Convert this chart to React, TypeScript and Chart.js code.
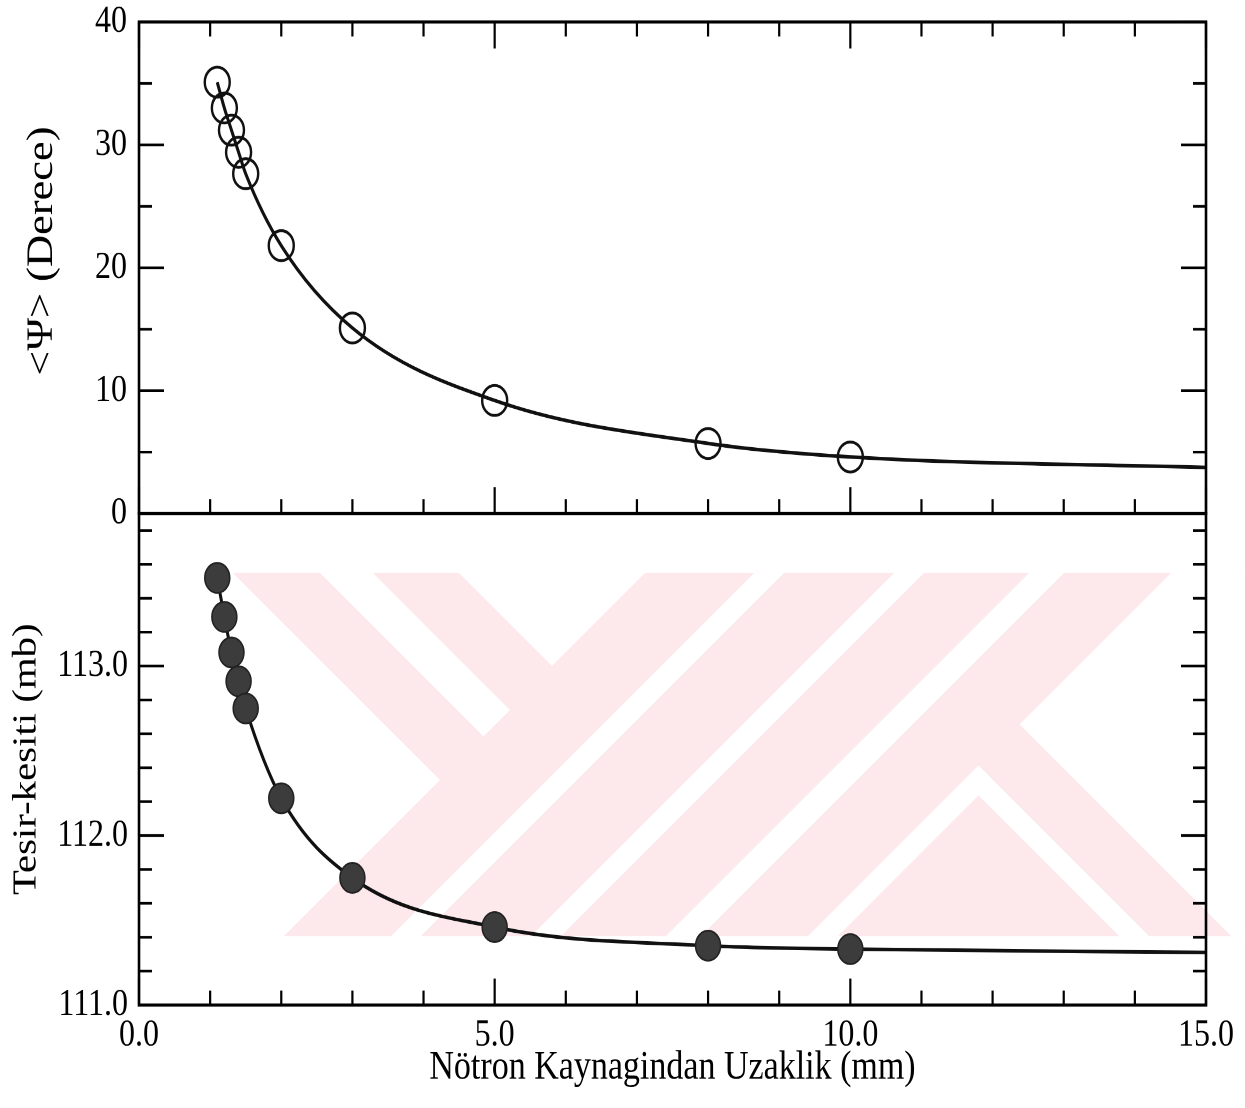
import React, { useEffect, useRef } from 'react';
import { Chart, registerables } from 'chart.js';

Chart.register(...registerables);

// Distance from the neutron source (mm) and the two measured quantities
const distanceMm = [1.1, 1.2, 1.3, 1.4, 1.5, 2, 3, 5, 8, 10];
const psiDegrees = [35.1, 33.0, 31.2, 29.4, 27.65, 21.8, 15.1, 9.2, 5.7, 4.6];
const crossSectionMb = [113.52, 113.29, 113.08, 112.91, 112.75, 112.22, 111.75, 111.46, 111.35, 111.33];

// The fitted curves run on past the last measurement to the end of the axis
const curveEndMm = 15;
const psiCurveEnd = 3.75;
const crossSectionCurveEnd = 111.31;

// Labelled ticks
const distanceTicks = [0, 5, 10, 15];
const psiTicks = [0, 10, 20, 30, 40];
const crossSectionTicks = [111, 112, 113];

// Minor tick spacing, and how many minor steps make a major tick
const distanceMinor = { step: 1, major: 5 };
const psiMinor = { step: 5, major: 2 };
const crossSectionMinor = { step: 0.2, major: 5 };

// The figure is drawn on a shorter canvas and stretched vertically,
// which gives the tall, narrow serif lettering of the printed plot.
const PAGE_W = 1245;
const PAGE_H = 1108;
const H = 923;
const STRETCH = PAGE_H / H;
const PLOT_TOP = 22;
const PLOT_BOTTOM = 1005;
const PLOT_LEFT = 139;
const PLOT_RIGHT = 1206;

const SERIF = '"Liberation Serif", "Times New Roman", serif';

type Pt = [number, number];
type HalfPlane = [number, number, number]; // a*x + b*y <= c

function clipPoly(poly: Pt[], [a, b, c]: HalfPlane): Pt[] {
  const out: Pt[] = [];
  for (let i = 0; i < poly.length; i++) {
    const p = poly[i];
    const q = poly[(i + 1) % poly.length];
    const fp = a * p[0] + b * p[1] - c;
    const fq = a * q[0] + b * q[1] - c;
    if (fp <= 0) out.push(p);
    if ((fp < 0 && fq > 0) || (fp > 0 && fq < 0)) {
      const t = fp / (fp - fq);
      out.push([p[0] + t * (q[0] - p[0]), p[1] + t * (q[1] - p[1])]);
    }
  }
  return out;
}

// Pale diagonal-stripe emblem printed behind the lower panel (page pixels)
const EMBLEM_BOX: Pt[] = [[200, 573], [1245, 573], [1245, 936], [200, 936]];
const EMBLEM_GAPS: HalfPlane[][] = [
  [[1, 1, 1220], [1, -1, -340]],
  [[1, 1, 1220], [-1, 1, 253], [1, -1, -200]],
  [[1, 1, 1218], [-1, 1, 114]],
  [[-1, -1, -1327], [1, 1, 1357]],
  [[-1, -1, -1467], [1, 1, 1497]],
  [[-1, -1, -1602], [1, 1, 1637]],
  [[-1, -1, -1744], [-1, 1, -295]],
  [[-1, -1, -1744], [1, 1, 1774], [1, -1, 213]],
  [[-1, 1, -183], [1, -1, 213], [-1, -1, -1744]],
];

const emblemPlugin = {
  id: 'emblem',
  beforeDraw(chart: any) {
    const ctx: CanvasRenderingContext2D = chart.ctx;
    ctx.save();
    ctx.fillStyle = '#ffffff';
    ctx.fillRect(0, 0, chart.width, chart.height);
    ctx.scale(1, 1 / STRETCH);
    const fill = (poly: Pt[], color: string) => {
      if (poly.length < 3) return;
      ctx.beginPath();
      ctx.moveTo(poly[0][0], poly[0][1]);
      for (let i = 1; i < poly.length; i++) ctx.lineTo(poly[i][0], poly[i][1]);
      ctx.closePath();
      ctx.fillStyle = color;
      ctx.fill();
    };
    fill(EMBLEM_BOX, '#fde8ec');
    for (const gap of EMBLEM_GAPS) {
      let poly = EMBLEM_BOX.slice();
      for (const hp of gap) poly = clipPoly(poly, hp);
      fill(poly, '#ffffff');
    }
    ctx.restore();
  },
};

// Boxed panels with inward-pointing major and minor ticks on every side
const framePlugin = {
  id: 'frameTicks',
  afterDatasetsDraw(chart: any) {
    const ctx: CanvasRenderingContext2D = chart.ctx;
    const xs = chart.scales.x;
    const top = chart.scales.yTop;
    const bot = chart.scales.yBot;
    const L = xs.left;
    const R = xs.right;
    const seg = (x1: number, y1: number, x2: number, y2: number) => {
      ctx.beginPath();
      ctx.moveTo(x1, y1);
      ctx.lineTo(x2, y2);
      ctx.stroke();
    };
    ctx.save();
    ctx.strokeStyle = '#000';
    ctx.lineCap = 'butt';
    ctx.lineWidth = 2.2;

    const nx = Math.floor((xs.max - xs.min) / distanceMinor.step + 1e-6);
    for (let i = 0; i <= nx; i++) {
      const px = xs.getPixelForValue(xs.min + i * distanceMinor.step);
      const len = i % distanceMinor.major === 0 ? 22 : 12;
      seg(px, bot.bottom, px, bot.bottom - len);
      seg(px, top.bottom, px, top.bottom - len);
      seg(px, top.top, px, top.top + len);
    }

    const yTicks = (scale: any, minor: { step: number; major: number }) => {
      const n = Math.floor((scale.max - scale.min) / minor.step + 1e-6);
      for (let i = 0; i <= n; i++) {
        const py = scale.getPixelForValue(scale.min + i * minor.step);
        const len = i % minor.major === 0 ? 25 : 13;
        seg(L, py, L + len, py);
        seg(R, py, R - len, py);
      }
    };
    yTicks(top, psiMinor);
    yTicks(bot, crossSectionMinor);

    ctx.lineWidth = 2.6;
    ctx.strokeRect(L, top.top, R - L, top.bottom - top.top);
    ctx.strokeRect(L, bot.top, R - L, bot.bottom - bot.top);
    ctx.restore();
  },
};

const tickFont = { family: SERIF, size: 32, lineHeight: 1 };

// Pin each axis box to the plot frame and drop label overhang padding
const fixWidth = (s: any) => {
  s.width = PLOT_LEFT;
  s.paddingTop = 0;
  s.paddingBottom = 0;
  s.paddingLeft = 0;
  s.paddingRight = 0;
};
const fixHeight = (s: any) => {
  s.height = H - PLOT_BOTTOM / STRETCH;
  s.paddingTop = 0;
  s.paddingBottom = 0;
  s.paddingLeft = 0;
  s.paddingRight = 0;
};

function buildConfig(): any {
  const psiPoints = distanceMm.map((x, i) => ({ x, y: psiDegrees[i] }));
  psiPoints.push({ x: curveEndMm, y: psiCurveEnd });
  const sigmaPoints = distanceMm.map((x, i) => ({ x, y: crossSectionMb[i] }));
  sigmaPoints.push({ x: curveEndMm, y: crossSectionCurveEnd });
  const markerRadius = (r: number) => [...distanceMm.map(() => r), 0];

  return {
    type: 'scatter',
    data: {
      datasets: [
        {
          label: '<Ψ> (Derece)',
          data: psiPoints,
          xAxisID: 'x',
          yAxisID: 'yTop',
          showLine: true,
          borderColor: '#111',
          borderWidth: 3,
          cubicInterpolationMode: 'monotone',
          pointRadius: markerRadius(12.5),
          pointBorderWidth: 2.4,
          pointBorderColor: '#111',
          pointBackgroundColor: 'rgba(255,255,255,0)',
        },
        {
          label: 'Tesir-kesiti (mb)',
          data: sigmaPoints,
          xAxisID: 'x',
          yAxisID: 'yBot',
          showLine: true,
          borderColor: '#111',
          borderWidth: 3,
          cubicInterpolationMode: 'monotone',
          pointRadius: markerRadius(12.5),
          pointBorderWidth: 1.5,
          pointBorderColor: '#222',
          pointBackgroundColor: '#3c3c3c',
        },
      ],
    },
    options: {
      responsive: false,
      devicePixelRatio: 2,
      animation: false,
      events: [],
      layout: {
        padding: { top: PLOT_TOP / STRETCH, right: PAGE_W - PLOT_RIGHT, left: 0, bottom: 0 },
      },
      plugins: {
        legend: { display: false },
        tooltip: { enabled: false },
      },
      scales: {
        x: {
          type: 'linear',
          position: 'bottom',
          min: 0,
          max: 15,
          grid: { display: false, drawTicks: false },
          border: { display: false },
          afterBuildTicks: (s: any) => {
            s.ticks = distanceTicks.map((value) => ({ value }));
          },
          afterFit: fixHeight,
          ticks: {
            color: '#000',
            font: { family: SERIF, size: 32 },
            padding: 6,
            maxRotation: 0,
            autoSkip: false,
            callback: (v: number) => v.toFixed(1),
          },
          title: {
            display: true,
            text: 'Nötron Kaynagindan Uzaklik (mm)',
            color: '#000',
            font: { family: SERIF, size: 34 },
            padding: { top: 0, bottom: 13 },
          },
        },
        yTop: {
          type: 'linear',
          position: 'left',
          stack: 'panels',
          stackWeight: 1,
          weight: 1,
          min: 0,
          max: 40,
          grid: { display: false, drawTicks: false },
          border: { display: false },
          afterBuildTicks: (s: any) => {
            s.ticks = psiTicks.map((value) => ({ value }));
          },
          afterFit: fixWidth,
          ticks: {
            color: '#000',
            font: tickFont,
            padding: 12,
            callback: (v: number) => String(v),
          },
          title: {
            display: true,
            text: '   <Ψ> (Derece)',
            color: '#000',
            font: { family: SERIF, size: 37 },
            padding: { top: 20, bottom: 0 },
          },
        },
        yBot: {
          type: 'linear',
          position: 'left',
          stack: 'panels',
          stackWeight: 1,
          weight: 0,
          min: 111,
          max: 113.9,
          grid: { display: false, drawTicks: false },
          border: { display: false },
          afterBuildTicks: (s: any) => {
            s.ticks = crossSectionTicks.map((value) => ({ value }));
          },
          afterFit: fixWidth,
          ticks: {
            color: '#000',
            font: tickFont,
            padding: 11,
            callback: (v: number) => v.toFixed(1),
          },
          title: {
            display: true,
            text: 'Tesir-kesiti (mb)',
            color: '#000',
            font: { family: SERIF, size: 34 },
            padding: { top: 6, bottom: 0 },
          },
        },
      },
    },
    plugins: [emblemPlugin, framePlugin],
  };
}

export default function App() {
  const canvasRef = useRef<HTMLCanvasElement>(null);

  useEffect(() => {
    if (!canvasRef.current) return;
    const chart = new Chart(canvasRef.current, buildConfig());
    return () => chart.destroy();
  }, []);

  return (
    <div
      style={{
        position: 'fixed',
        left: 0,
        top: 0,
        width: PAGE_W,
        height: PAGE_H,
        overflow: 'hidden',
        background: '#fff',
      }}
    >
      <div
        style={{
          width: PAGE_W,
          height: H,
          transform: `scaleY(${STRETCH})`,
          transformOrigin: '0 0',
        }}
      >
        <canvas
          ref={canvasRef}
          width={PAGE_W}
          height={H}
          style={{ display: 'block', width: PAGE_W, height: H }}
        />
      </div>
    </div>
  );
}
